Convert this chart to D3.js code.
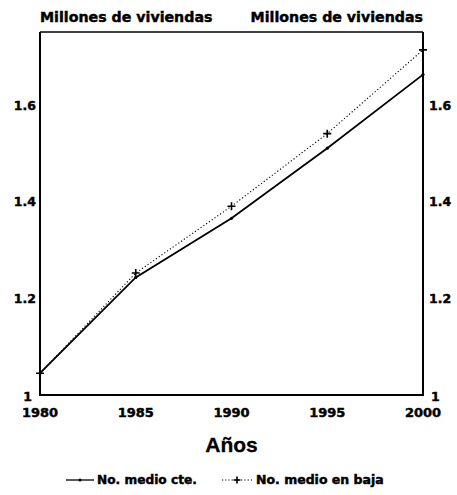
<!DOCTYPE html>
<html><head><meta charset="utf-8">
<script src="https://cdn.jsdelivr.net/npm/d3@7"></script>
<style>
body{margin:0;background:#fff;}
text{font-family:"DejaVu Sans",sans-serif;font-weight:bold;fill:#000;stroke:#000;stroke-width:0.45px;}
</style></head>
<body><svg id="c" width="457" height="495"></svg>
<script>
const years = [1980, 1985, 1990, 1995, 2000];
const medioCte = [1.045, 1.243, 1.365, 1.51, 1.662];
const medioBaja = [1.045, 1.252, 1.39, 1.54, 1.713];
const yTicks = [1, 1.2, 1.4, 1.6];
const yTickLabels = ["1", "1.2", "1.4", "1.6"];
const xTicks = [1980, 1985, 1990, 1995, 2000];
const yTitle = "Millones de viviendas";
const xTitle = "Años";
const legendLabels = ["No. medio cte.", "No. medio en baja"];

const svg = d3.select("#c");
const L = 40, R = 423, T = 32, B = 395;
const x = d3.scaleLinear().domain([1980, 2000]).range([L, R]);
const y = d3.scaleLinear().domain([1, 1.75]).range([B, T]);

// frame
svg.append("path").attr("d", `M${L},${T}H${R}`).attr("stroke", "#000").attr("stroke-width", 1.5).attr("fill", "none");
svg.append("path").attr("d", `M${L},${T}V${B}H${R}V${T}`).attr("stroke", "#000").attr("stroke-width", 2).attr("fill", "none");

// y tick labels left and right
svg.selectAll(".yl").data(yTicks).join("text")
  .attr("x", d => d === 1 ? L - 8 : L - 4).attr("y", d => y(d) + 5 + (d === 1 ? 1 : 0))
  .attr("text-anchor", "end").attr("font-size", 12.5)
  .text((d, i) => yTickLabels[i]);
svg.selectAll(".yr").data(yTicks).join("text")
  .attr("x", d => d === 1 ? R + 8 : R + 6).attr("y", d => y(d) + 5 + (d === 1 ? 1 : 0))
  .attr("text-anchor", "start").attr("font-size", 12.5)
  .text((d, i) => yTickLabels[i]);

// x tick labels
svg.selectAll(".xl").data(xTicks).join("text")
  .attr("x", d => x(d)).attr("y", B + 22)
  .attr("text-anchor", "middle").attr("font-size", 13)
  .text(d => d);

// titles
svg.append("text").attr("x", L).attr("y", 22).attr("font-size", 14.2).text(yTitle);
svg.append("text").attr("x", R).attr("y", 22).attr("text-anchor", "end").attr("font-size", 14.2).text(yTitle);
svg.append("text").attr("x", (L + R) / 2).attr("y", 452).attr("text-anchor", "middle")
  .attr("font-size", 21).attr("font-weight", "normal").style("stroke-width", "0.3px")
  .style("font-family", "'Liberation Sans',Arial,sans-serif").text(xTitle);

const line = d3.line().x((d, i) => x(years[i])).y(d => y(d));
// solid series
svg.append("path").datum(medioCte).attr("d", line).attr("fill", "none").attr("stroke", "#000").attr("stroke-width", 1.8);
svg.selectAll(".dc").data(medioCte).join("circle")
  .attr("cx", (d, i) => x(years[i])).attr("cy", d => y(d)).attr("r", 1.6).attr("fill", "#000");
// dotted series
svg.append("path").datum(medioBaja).attr("d", line).attr("fill", "none").attr("stroke", "#000")
  .attr("stroke-width", 1.1).attr("stroke-dasharray", "1.2,2.2");
const cross = (sel, cx, cy, s) => sel.append("path")
  .attr("d", `M${cx - s},${cy}H${cx + s}M${cx},${cy - s}V${cy + s}`)
  .attr("stroke", "#000").attr("stroke-width", 1.6);
medioBaja.forEach((d, i) => cross(svg, x(years[i]), y(d), 4));

// legend
const ly = 484;
svg.append("path").attr("d", `M66,${ly - 4}H94`).attr("stroke", "#000").attr("stroke-width", 1.3);
svg.append("circle").attr("cx", 80).attr("cy", ly - 4).attr("r", 1.5).attr("fill", "#000");
svg.append("text").attr("x", 97).attr("y", ly).attr("font-size", 12.2).text(legendLabels[0]);
svg.append("path").attr("d", `M222,${ly - 4}H252`).attr("stroke", "#000").attr("stroke-width", 1)
  .attr("stroke-dasharray", "1.2,2");
cross(svg, 237, ly - 4, 3.5);
svg.append("text").attr("x", 256).attr("y", ly).attr("font-size", 12.5).text(legendLabels[1]);
</script></body></html>
